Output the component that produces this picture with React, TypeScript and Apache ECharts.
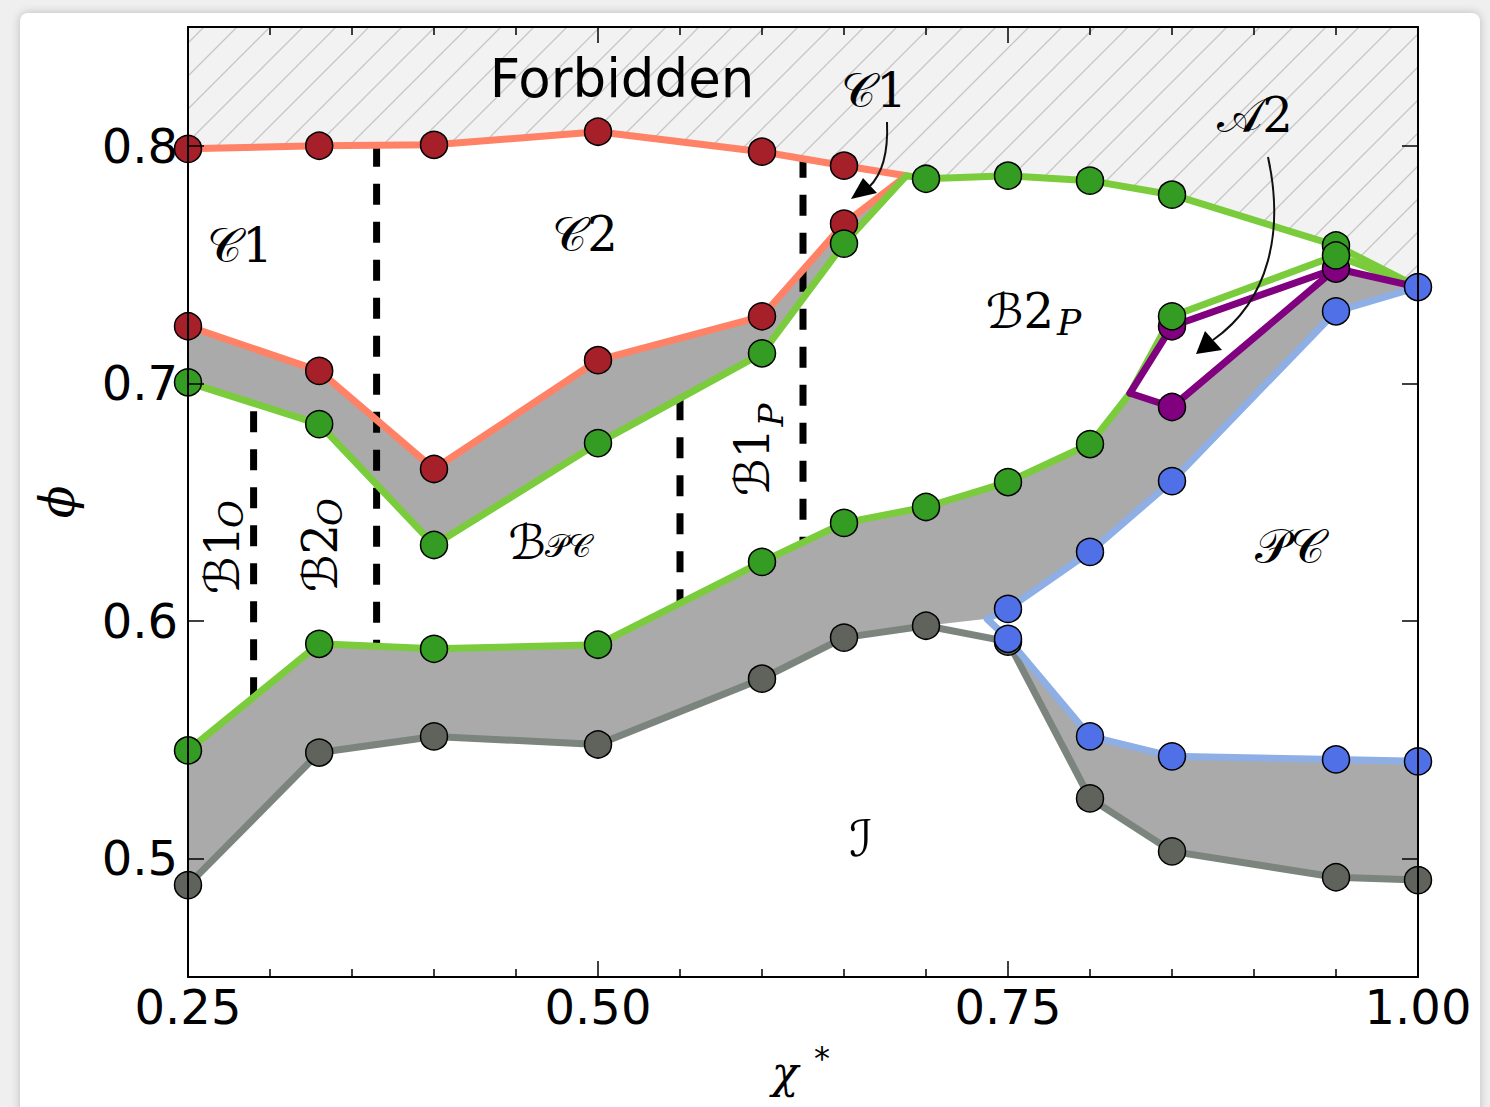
import React, { useEffect, useRef } from "react";
import * as echarts from "echarts";

type P = [number, number];

const X_TICKS = [0.25, 0.5, 0.75, 1.0];
const Y_TICKS = [0.5, 0.6, 0.7, 0.8];

// special junction points (no markers)
const CUSP: P = [0.688, 0.7874];
const A2_TIP: P = [0.8244, 0.6958];
const PC_TIP: P = [0.7372, 0.6008];
const MEET: P = [1.0, 0.7405];

const redTop: P[] = [[0.25, 0.7987], [0.33, 0.8], [0.4, 0.8004], [0.5, 0.8059], [0.6, 0.7975], [0.65, 0.7916]];
const redLow: P[] = [[0.25, 0.724], [0.33, 0.7052], [0.4, 0.6639], [0.5, 0.7097], [0.6, 0.7282], [0.65, 0.7672]];
const greenUpLeft: P[] = [[0.25, 0.7004], [0.33, 0.6828], [0.4, 0.6319], [0.5, 0.6748], [0.6, 0.7126], [0.65, 0.7588]];
const greenUpRight: P[] = [[0.7, 0.7861], [0.75, 0.7874], [0.8, 0.7853], [0.85, 0.7794], [0.95, 0.758]];
const greenLow: P[] = [[0.25, 0.5454], [0.33, 0.5903], [0.4, 0.5882], [0.5, 0.5899], [0.6, 0.6248], [0.65, 0.6412], [0.7, 0.6479], [0.75, 0.6584], [0.8, 0.6744]];
const greenLowRight: P[] = [[0.85, 0.7282], [0.95, 0.7538]];
const purpleUp: P[] = [[0.85, 0.724], [0.95, 0.7483]];
const purpleLow: P[] = [[0.85, 0.69]];
const blueUp: P[] = [[0.75, 0.605], [0.8, 0.629], [0.85, 0.6588], [0.95, 0.7303]];
const blueLow: P[] = [[0.75, 0.5924], [0.8, 0.5513], [0.85, 0.5429], [0.95, 0.5416], [1.0, 0.5408]];
const grayLow: P[] = [[0.25, 0.4887], [0.33, 0.5445], [0.4, 0.5513], [0.5, 0.5479], [0.6, 0.5756], [0.65, 0.5929], [0.7, 0.5979], [0.75, 0.5912], [0.8, 0.5252], [0.85, 0.5029], [0.95, 0.492], [1.0, 0.4908]];
// vertical dashed dividers: x, y from, y to
const dividers: [number, number, number][] = [[0.29, 0.6882, 0.5676], [0.365, 0.8, 0.5895], [0.55, 0.6933, 0.6076], [0.625, 0.7954, 0.6336]];

const rev = (a: P[]) => [...a].reverse();

const redPath: P[] = [...redTop, CUSP, ...rev(redLow)];
const greenUpPath: P[] = [...greenUpLeft, CUSP, ...greenUpRight, MEET];
const greenLowPath: P[] = [...greenLow, A2_TIP, ...greenLowRight, MEET];
const purplePath1: P[] = [A2_TIP, ...purpleUp, MEET];
const purplePath2: P[] = [purpleUp[1], ...purpleLow, A2_TIP];
const bluePath: P[] = [MEET, ...rev(blueUp), PC_TIP, ...blueLow];

const upperBand: P[] = [...redLow, CUSP, ...rev(greenUpLeft)];
const mainBand: P[] = [
  ...greenLow, A2_TIP, ...purpleLow, purpleUp[1], MEET, ...rev(blueUp), PC_TIP,
  ...rev(grayLow.filter((p) => p[0] < PC_TIP[0])),
];
const lowerBand: P[] = [PC_TIP, ...blueLow, ...rev(grayLow.filter((p) => p[0] >= 0.75))];
const forbidden: P[] = [[0.25, 0.85], [1.0, 0.85], MEET, ...rev(greenUpRight), CUSP, ...rev(redTop)];

const C = {
  redLine: "#FF8266",
  redDot: "#A52028",
  greenLine: "#7ACC3C",
  greenDot: "#349C22",
  blueLine: "#8EAEE6",
  blueDot: "#5070E8",
  grayLine: "#7C847E",
  grayDot: "#60635C",
  purple: "#800080",
  band: "#AAAAAA",
};

function makeHatch(): HTMLCanvasElement {
  const s = 33;
  const c = document.createElement("canvas");
  c.width = s;
  c.height = s;
  const g = c.getContext("2d")!;
  g.fillStyle = "#f2f2f2";
  g.fillRect(0, 0, s, s);
  g.strokeStyle = "#c6c6c6";
  g.lineWidth = 1.3;
  g.beginPath();
  g.moveTo(0, s);
  g.lineTo(s, 0);
  g.moveTo(-4, 4);
  g.lineTo(4, -4);
  g.moveTo(s - 4, s + 4);
  g.lineTo(s + 4, s - 4);
  g.stroke();
  return c;
}

const SCRIPT_FONT = "'DejaVu Serif', 'DejaVu Sans', serif";

export default function App() {
  const ref = useRef<HTMLDivElement>(null);
  useEffect(() => {
    if (!ref.current) return;
    const chart = echarts.init(ref.current, undefined, { renderer: "svg" });
    const hatch = makeHatch();

    const poly = (pts: P[], fill: any, z: number) => ({
      type: "custom",
      coordinateSystem: "cartesian2d",
      silent: true,
      z,
      clip: false,
      data: [pts[0]],
      encode: { x: 0, y: 1 },
      renderItem: (_p: any, api: any) => ({
        type: "polygon",
        shape: { points: pts.map((p) => api.coord(p)) },
        style: { fill, stroke: null },
      }),
    });
    const line = (data: P[], color: string, z = 3) => ({
      type: "line",
      data,
      symbol: "none",
      showSymbol: false,
      silent: true,
      clip: false,
      z,
      lineStyle: { color, width: 7, join: "round", cap: "round" },
    });
    const dots = (data: P[], color: string, z = 5) => ({
      type: "scatter",
      data,
      symbol: "circle",
      symbolSize: 27,
      silent: true,
      clip: false,
      z,
      itemStyle: { color, borderColor: "#000", borderWidth: 1.5, opacity: 1 },
    });
    const dashed = dividers.map((d) => ({
      type: "line",
      data: [[d[0], d[1]], [d[0], d[2]]],
      symbol: "none",
      silent: true,
      z: 2,
      lineStyle: { color: "#000", width: 7, type: [21, 17], cap: "butt" },
    }));

    const txt = (text: string, x: number, y: number, size: number, opts: any = {}) => ({
      type: "text",
      x,
      y,
      rotation: opts.rotation || 0,
      z: 30,
      silent: true,
      style: {
        text,
        fill: "#000",
        fontSize: size,
        fontFamily: opts.family || SCRIPT_FONT,
        fontStyle: opts.italic ? "italic" : "normal",
        align: "center",
        verticalAlign: "middle",
      },
    });
    const R = Math.PI / 2;

    const axisCommon = {
      type: "value",
      z: 10,
      splitLine: { show: false },
      axisLine: { show: true, onZero: false, lineStyle: { color: "#000", width: 2 } },
      axisTick: { show: true, inside: true, length: 16, lineStyle: { color: "#000", width: 1.5 } },
    };

    chart.setOption({
      animation: false,
      backgroundColor: "transparent",
      grid: { left: 188, right: 72, top: 27, bottom: 130, containLabel: false },
      xAxis: [
        {
          ...axisCommon,
          position: "bottom",
          min: 0.25,
          max: 1.0,
          interval: 0.25,
          minorTick: { show: true, splitNumber: 5, length: 8, lineStyle: { color: "#000", width: 1.5 } },
          axisLabel: {
            show: true,
            margin: 6,
            fontSize: 48,
            fontFamily: "'DejaVu Sans'",
            color: "#000",
            formatter: (v: number) => (X_TICKS.some((t) => Math.abs(t - v) < 1e-6) ? v.toFixed(2) : ""),
          },
        },
        {
          ...axisCommon,
          position: "top",
          min: 0.25,
          max: 1.0,
          interval: 0.25,
          minorTick: { show: true, splitNumber: 5, length: 8, lineStyle: { color: "#000", width: 1.5 } },
          axisLabel: { show: false },
        },
      ],
      yAxis: [
        {
          ...axisCommon,
          position: "left",
          min: 0.45,
          max: 0.85,
          splitNumber: 4,
          axisLabel: {
            show: true,
            margin: 10,
            fontSize: 48,
            fontFamily: "'DejaVu Sans'",
            color: "#000",
            formatter: (v: number) => (Y_TICKS.some((t) => Math.abs(t - v) < 1e-6) ? v.toFixed(1) : ""),
          },
        },
        {
          ...axisCommon,
          position: "right",
          min: 0.45,
          max: 0.85,
          splitNumber: 4,
          axisLabel: { show: false },
        },
      ],
      series: [
        poly(forbidden, { image: hatch, repeat: "repeat", imageWidth: 33, imageHeight: 33 }, 1),
        poly(upperBand, C.band, 1),
        poly(mainBand, C.band, 1),
        poly(lowerBand, C.band, 1),
        ...dashed,
        line(redPath, C.redLine),
        line(grayLow, C.grayLine),
        line(bluePath, C.blueLine),
        line(greenUpPath, C.greenLine),
        line(greenLowPath, C.greenLine),
        line(purplePath1, C.purple),
        line(purplePath2, C.purple),
        dots([...redTop, ...redLow], C.redDot),
        dots(grayLow, C.grayDot),
        dots([...purpleUp, ...purpleLow], C.purple),
        dots([...greenUpLeft, ...greenUpRight, ...greenLow, ...greenLowRight], C.greenDot),
        dots([...blueUp, MEET, ...blueLow], C.blueDot),
      ],
      graphic: [
        txt("Forbidden", 622, 78, 53, { family: "'DejaVu Sans'" }),
        txt("\u{1D49E}1", 240, 245, 48),
        txt("\u{1D49E}2", 585, 234, 48),
        txt("\u{1D49E}1", 874, 90, 48),
        txt("\u{1D49C}2", 1255, 115, 48),
        txt("\u212C2", 1020, 311, 48),
        txt("P", 1069, 322, 36, { italic: true }),
        txt("\u212C", 527, 542, 48),
        txt("\u{1D4AB}\u{1D49E}", 568, 546, 32),
        txt("\u{1D4AB}\u{1D49E}", 1290, 546, 48),
        txt("\u2110", 861, 839, 50),
        txt("\u212C1", 222, 560, 48, { rotation: R }),
        txt("O", 231, 514, 34, { rotation: R, italic: true }),
        txt("\u212C2", 320, 558, 48, { rotation: R }),
        txt("O", 330, 512, 34, { rotation: R, italic: true }),
        txt("\u212C1", 752, 462, 48, { rotation: R }),
        txt("P", 771, 415, 34, { rotation: R, italic: true }),
        txt("\u03D5", 57, 502, 48, { rotation: R, italic: true }),
        txt("\u03C7", 785, 1072, 44, { italic: true }),
        txt("*", 822, 1058, 32, { family: "'DejaVu Sans'" }),
        {
          type: "bezierCurve",
          z: 30,
          silent: true,
          shape: { x1: 887, y1: 122, cpx1: 889, cpy1: 168, x2: 869, y2: 187 },
          style: { stroke: "#111", lineWidth: 2, fill: null },
        },
        {
          type: "polygon",
          z: 30,
          silent: true,
          shape: { points: [[851, 199], [863, 178], [877, 193]] },
          style: { fill: "#000" },
        },
        {
          type: "bezierCurve",
          z: 30,
          silent: true,
          shape: { x1: 1268, y1: 157, cpx1: 1284, cpy1: 230, cpx2: 1270, cpy2: 300, x2: 1213, y2: 340 },
          style: { stroke: "#111", lineWidth: 2, fill: null },
        },
        {
          type: "polygon",
          z: 30,
          silent: true,
          shape: { points: [[1196, 354], [1205, 331], [1222, 350]] },
          style: { fill: "#000" },
        },
      ],
    });
    return () => chart.dispose();
  }, []);

  return (
    <div style={{ position: "fixed", left: 0, top: 0, width: 1490, height: 1107, background: "#efefef", overflow: "hidden" }}>
      <div
        style={{
          position: "absolute",
          left: 20,
          top: 13,
          width: 1460,
          height: 1130,
          background: "#fff",
          borderRadius: 8,
          boxShadow: "0 0 10px rgba(0,0,0,0.22)",
        }}
      />
      <div ref={ref} style={{ position: "absolute", left: 0, top: 0, width: 1490, height: 1107 }} />
    </div>
  );
}
